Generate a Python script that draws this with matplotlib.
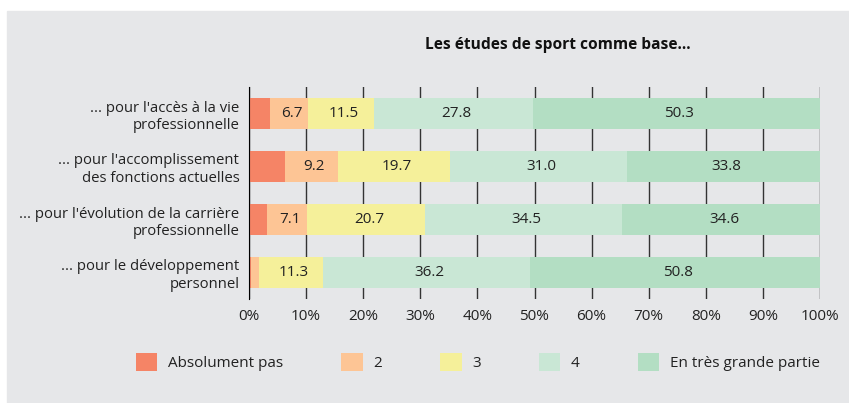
import numpy as np
import matplotlib.pyplot as plt
from matplotlib.patches import Rectangle, Patch

plt.rcParams['font.family'] = ['Open Sans', 'DejaVu Sans']

categories = ["... pour l'accès à la vie\nprofessionnelle",
              "... pour l'accomplissement\ndes fonctions actuelles",
              "... pour l'évolution de la carrière\nprofessionnelle",
              "... pour le développement\npersonnel"]
series_names = ["Absolument pas", "2", "3", "4", "En très grande partie"]
absolument_pas = [3.7, 6.3, 3.1, 0.3]
note_2 = [6.7, 9.2, 7.1, 1.4]
note_3 = [11.5, 19.7, 20.7, 11.3]
note_4 = [27.8, 31.0, 34.5, 36.2]
tres_grande = [50.3, 33.8, 34.6, 50.8]
colors = ["#f58466", "#fdc595", "#f5f09a", "#c9e7d5", "#b3dec3"]
bg = "#e6e7e9"

series = [absolument_pas, note_2, note_3, note_4, tres_grande]

fig = plt.figure(figsize=(8.49, 4.03), dpi=100)
fig.patches.append(Rectangle((7 / 849, 0), 842 / 849, 392 / 403,
                             transform=fig.transFigure, color=bg, zorder=-10))
ax = fig.add_axes([249 / 849, 1 - 299 / 403, 571 / 849, 212 / 403])
ax.set_facecolor(bg)

y = np.arange(len(categories))
left = np.zeros(len(categories))
for vals, col, name in zip(series, colors, series_names):
    vals = np.array(vals)
    ax.barh(y, vals, left=left, height=0.6, color=col, label=name, zorder=3)
    for yi, l, v in zip(y, left, vals):
        if v >= 6.5:
            ax.text(l + v / 2 + 0.5, yi, f"{v:.1f}", ha='center', va='center',
                    fontsize=11, color='#222222', zorder=4)
    left += vals

ax.set_xlim(0, 100)
ax.set_ylim(3.5, -0.5)
ax.set_xticks(np.arange(0, 101, 10))
ax.set_xticklabels([f"{t}%" for t in range(0, 101, 10)], fontsize=11, color='#222222')
ax.set_yticks(y)
ax.set_yticklabels(categories, fontsize=10.7, color='#222222', linespacing=1.2)
ax.tick_params(axis='both', length=0, pad=7)
ax.grid(axis='x', color='#333333', linewidth=1, zorder=1)
for s in ['top', 'right', 'bottom']:
    ax.spines[s].set_visible(False)
ax.spines['left'].set_color('black')
ax.spines['left'].set_zorder(5)

fig.text(558 / 849, 1 - 45 / 403, "Les études de sport comme base…", ha='center', va='center',
         fontsize=11.2, fontweight='bold', color='#111111')

handles = [Patch(facecolor=c, edgecolor='none') for c in colors]
fig.legend(handles, series_names, loc='center', bbox_to_anchor=(478 / 849, 1 - 362 / 403),
           ncol=5, frameon=False, fontsize=11, handlelength=1.4, handleheight=1.4,
           handletextpad=0.7, columnspacing=3.8, labelcolor='#222222')

fig.savefig("out.png", dpi=100, facecolor='white')
